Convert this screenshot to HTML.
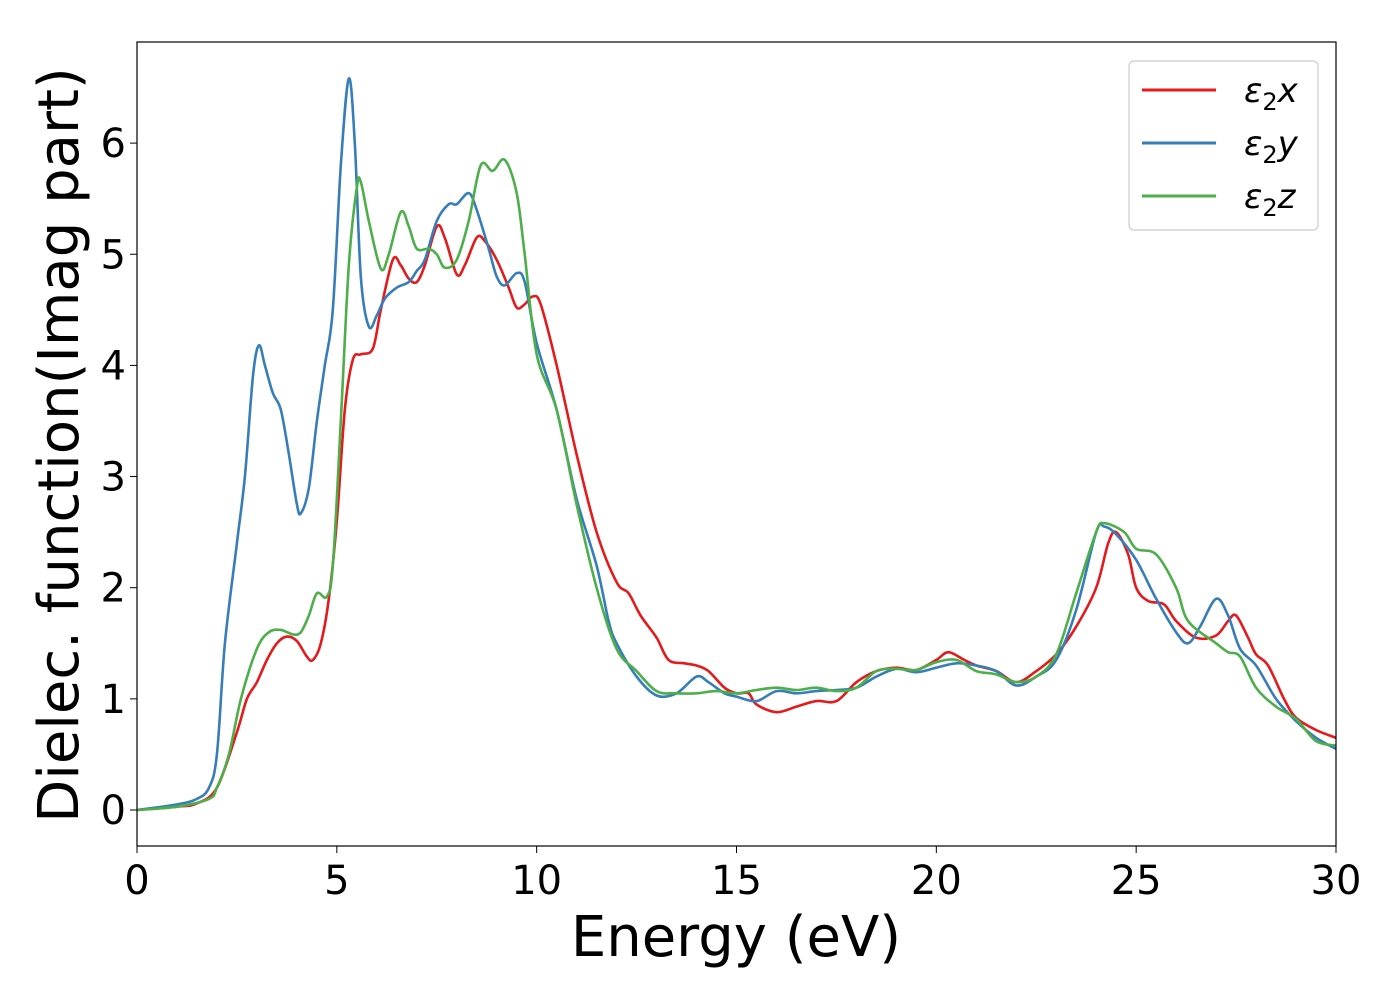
<!DOCTYPE html>
<html><head><meta charset="utf-8"><style>
body{margin:0;background:#fff}
svg{font-family:"DejaVu Sans","Liberation Sans",sans-serif}
</style></head><body>
<svg id="chart" width="1400" height="1000" viewBox="0 0 1400 1000" xmlns="http://www.w3.org/2000/svg">
<rect x="0" y="0" width="1400" height="1000" fill="#fff"/>
<g id="series"></g>
<rect x="137" y="42" width="1199" height="804" fill="none" stroke="#000" stroke-width="1.2"/>
<g id="xticks"></g>
<g id="yticks"></g>
<text x="736" y="956" font-size="56" text-anchor="middle">Energy (eV)</text>
<text transform="translate(78,445) rotate(-90)" font-size="56" text-anchor="middle">Dielec. function(Imag part)</text>
<g>
<rect x="1129" y="61" width="189" height="169" rx="5" fill="#fff" stroke="#ccc" stroke-width="1.2"/>
<line x1="1142" y1="90" x2="1216" y2="90" stroke="#e41a1c" stroke-width="3"/>
<text x="1244" y="102" font-size="34" font-style="italic">ε<tspan font-size="24" dy="8" font-style="normal">2</tspan><tspan dy="-8">x</tspan></text>
<line x1="1142" y1="143" x2="1216" y2="143" stroke="#377eb8" stroke-width="3"/>
<text x="1244" y="155" font-size="34" font-style="italic">ε<tspan font-size="24" dy="8" font-style="normal">2</tspan><tspan dy="-8">y</tspan></text>
<line x1="1142" y1="196" x2="1216" y2="196" stroke="#4daf4a" stroke-width="3"/>
<text x="1244" y="208" font-size="34" font-style="italic">ε<tspan font-size="24" dy="8" font-style="normal">2</tspan><tspan dy="-8">z</tspan></text>
</g>
</svg>
<script>
const xTicks=[0,5,10,15,20,25,30];
const yTicks=[0,1,2,3,4,5,6];
const xE=[0,1,1.5,2,2.5,2.75,3,3.25,3.5,3.75,4,4.25,4.4,4.6,4.8,5,5.2,5.4,5.6,5.9,6.1,6.4,6.6,6.8,7,7.2,7.5,7.7,8,8.2,8.5,8.7,9,9.3,9.5,9.7,9.9,10.1,10.5,11,11.5,12,12.3,12.6,13,13.3,13.7,14,14.3,14.7,15,15.3,15.5,16,16.5,17,17.5,18,18.5,19,19.5,20,20.3,20.7,21,21.5,22,22.5,23,23.5,24,24.3,24.5,24.8,25,25.3,25.7,26,26.5,27,27.3,27.5,27.8,28,28.3,28.7,29,29.5,30];
const xV=[0,0.03,0.06,0.2,0.7,1.0,1.15,1.35,1.5,1.56,1.52,1.38,1.35,1.5,1.9,2.6,3.6,4.05,4.1,4.15,4.5,4.95,4.9,4.78,4.75,4.9,5.25,5.15,4.82,4.9,5.15,5.12,4.95,4.7,4.52,4.55,4.62,4.55,4.0,3.2,2.5,2.05,1.95,1.75,1.55,1.35,1.32,1.3,1.25,1.1,1.05,1.05,0.95,0.88,0.93,0.98,0.98,1.15,1.25,1.28,1.26,1.35,1.42,1.35,1.3,1.25,1.15,1.25,1.4,1.65,2.0,2.4,2.5,2.3,2.0,1.88,1.85,1.7,1.55,1.57,1.7,1.75,1.55,1.4,1.3,1.0,0.83,0.72,0.65];
const yE=[0,1,1.5,1.8,2,2.2,2.5,2.7,2.9,3.05,3.2,3.4,3.6,3.8,4,4.1,4.3,4.5,4.7,4.9,5.1,5.3,5.45,5.6,5.8,6,6.2,6.5,6.8,7,7.2,7.5,7.8,8,8.3,8.5,8.8,9,9.2,9.5,9.7,10,10.5,11,11.5,11.8,12,12.5,13,13.5,14,14.3,14.7,15,15.5,16,16.5,17,17.5,18,18.5,19,19.5,20,20.5,21,21.5,22,22.5,23,23.5,24,24.2,24.5,25,25.5,26,26.3,26.6,27,27.3,27.6,28,28.5,29,29.5,30];
const yV=[0,0.05,0.1,0.2,0.5,1.5,2.4,3.0,3.9,4.18,4.0,3.75,3.6,3.2,2.75,2.67,2.9,3.5,4.0,4.5,5.8,6.58,6.0,4.8,4.35,4.45,4.6,4.7,4.75,4.85,4.95,5.3,5.45,5.45,5.55,5.4,5.05,4.8,4.72,4.83,4.75,4.2,3.6,2.8,2.2,1.7,1.5,1.2,1.03,1.05,1.2,1.15,1.05,1.02,0.98,1.07,1.05,1.07,1.08,1.1,1.2,1.27,1.24,1.28,1.32,1.3,1.25,1.12,1.2,1.35,1.8,2.5,2.55,2.48,2.25,1.9,1.6,1.5,1.65,1.9,1.75,1.45,1.3,1.0,0.8,0.65,0.55];
const zE=[0,1,1.8,2,2.3,2.6,3,3.3,3.6,3.9,4.1,4.3,4.5,4.75,4.9,5.1,5.3,5.5,5.6,5.8,6.1,6.3,6.6,6.8,7,7.3,7.5,7.7,8,8.3,8.6,8.9,9.2,9.5,9.7,10,10.5,11,11.5,12,12.5,13,13.5,14,14.5,15,15.5,16,16.5,17,17.5,18,18.5,19,19.5,20,20.5,21,21.5,22,22.5,23,23.5,24,24.2,24.7,25,25.5,26,26.3,27,27.3,27.6,28,28.5,29,29.5,30];
const zV=[0,0.03,0.1,0.2,0.5,1.0,1.45,1.6,1.62,1.58,1.6,1.75,1.95,1.92,2.2,3.5,4.9,5.6,5.65,5.3,4.87,5.0,5.38,5.25,5.05,5.05,5.0,4.88,4.95,5.3,5.8,5.75,5.85,5.55,5.0,4.1,3.6,2.75,2.0,1.45,1.25,1.07,1.05,1.05,1.07,1.05,1.08,1.1,1.08,1.1,1.07,1.1,1.25,1.27,1.26,1.33,1.35,1.25,1.22,1.15,1.2,1.4,1.95,2.5,2.58,2.5,2.35,2.3,2.0,1.7,1.5,1.42,1.38,1.1,0.93,0.82,0.62,0.58];
const NS='http://www.w3.org/2000/svg';
const sx=v=>137+v*(1199/30);
const sy=v=>810-v*111.15;
function path(E,V){
  const p=E.map((e,i)=>[sx(e),sy(V[i])]);
  let d='M'+p[0][0].toFixed(1)+','+p[0][1].toFixed(1);
  for(let i=0;i<p.length-1;i++){
    const p0=p[Math.max(i-1,0)],p1=p[i],p2=p[i+1],p3=p[Math.min(i+2,p.length-1)];
    const c1=[p1[0]+(p2[0]-p0[0])/6,p1[1]+(p2[1]-p0[1])/6];
    const c2=[p2[0]-(p3[0]-p1[0])/6,p2[1]-(p3[1]-p1[1])/6];
    d+=' C'+c1.map(n=>n.toFixed(1))+' '+c2.map(n=>n.toFixed(1))+' '+p2.map(n=>n.toFixed(1));
  }
  return d;
}
const g=document.getElementById('series');
[[xE,xV,'#e41a1c','series-eps2x'],[yE,yV,'#377eb8','series-eps2y'],[zE,zV,'#4daf4a','series-eps2z']].forEach(s=>{
  const el=document.createElementNS(NS,'path');
  el.setAttribute('d',path(s[0],s[1]));
  el.setAttribute('fill','none');
  el.setAttribute('stroke',s[2]);
  el.setAttribute('stroke-width','2.6');
  
  
  g.appendChild(el);
});
const gx=document.getElementById('xticks');
xTicks.forEach(t=>{
  const l=document.createElementNS(NS,'line');
  l.setAttribute('x1',sx(t));l.setAttribute('x2',sx(t));l.setAttribute('y1',846);l.setAttribute('y2',853);
  l.setAttribute('stroke','#000');
  
  
  gx.appendChild(l);
  const tx=document.createElementNS(NS,'text');
  tx.setAttribute('x',sx(t));tx.setAttribute('y',894);
  tx.setAttribute('font-size','40');tx.setAttribute('text-anchor','middle');
  tx.textContent=t;
  
  
  gx.appendChild(tx);
});
const gy=document.getElementById('yticks');
yTicks.forEach(t=>{
  const l=document.createElementNS(NS,'line');
  l.setAttribute('x1',130);l.setAttribute('x2',137);l.setAttribute('y1',sy(t));l.setAttribute('y2',sy(t));
  l.setAttribute('stroke','#000');
  
  
  gy.appendChild(l);
  const tx=document.createElementNS(NS,'text');
  tx.setAttribute('x',126);tx.setAttribute('y',sy(t)+14);
  tx.setAttribute('font-size','40');tx.setAttribute('text-anchor','end');
  tx.textContent=t;
  
  
  gy.appendChild(tx);
});
</script>
</body></html>
